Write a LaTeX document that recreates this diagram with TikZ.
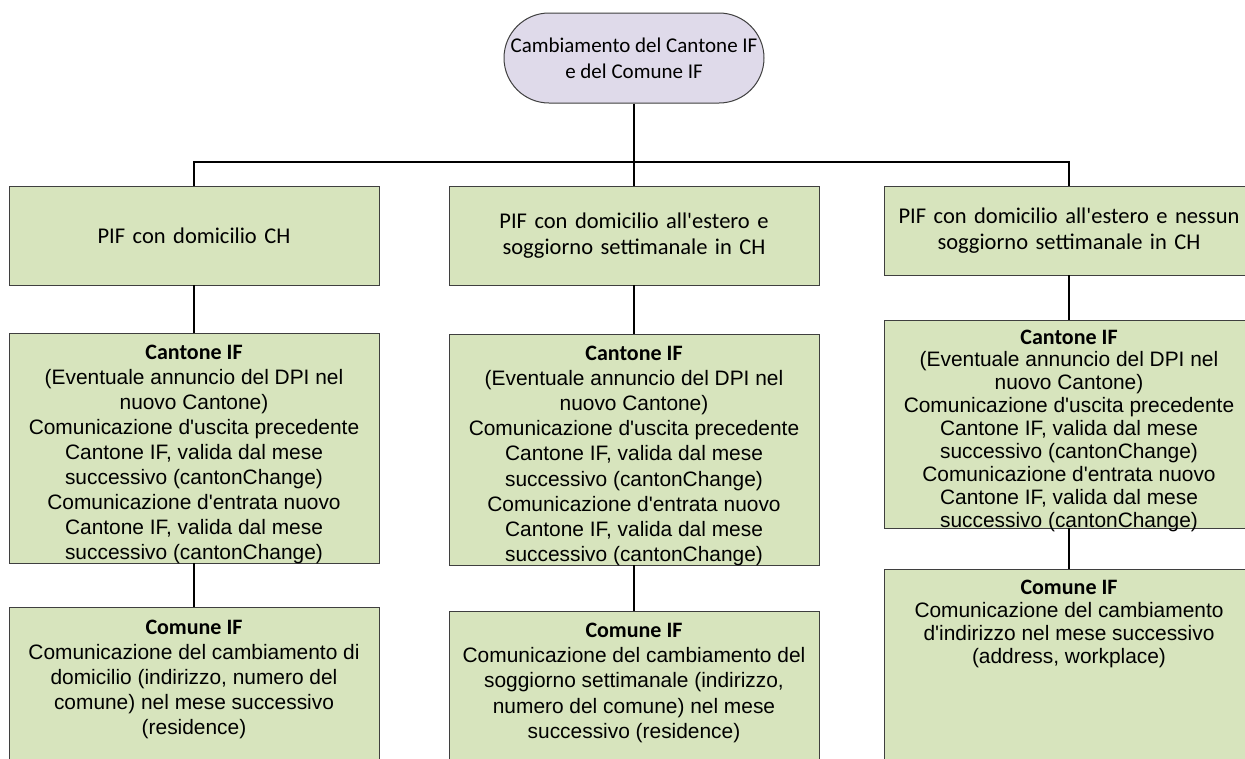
\documentclass[tikz,border=0pt]{standalone}
\usepackage{fontspec}
\setmainfont{Liberation Sans}
\newfontfamily\calfont{Carlito}
\definecolor{boxfill}{HTML}{D7E4BD}
\definecolor{ovalfill}{HTML}{DFDAEA}
\definecolor{boxline}{HTML}{3F3F3F}
\newcommand\ap{\textquotesingle}
\newcommand\hd[1]{{\calfont\bfseries\fontsize{22}{25}\selectfont #1}}
% #1 height, #2 top strut, #3 baselineskip, #4 content
\newcommand\tbox[4]{\parbox[c][#1][t]{370pt}{\centering\fontsize{20.9}{#3}\selectfont\rule{0pt}{#2}#4\par}}
\tikzset{
  box/.style={draw=boxline, fill=boxfill, line width=1pt, inner sep=0pt, outer sep=0pt},
  pifbox/.style={box, text width=370pt, align=center, minimum height=#1,
    font=\calfont\fontsize{22.5}{25.6}\selectfont},
  conn/.style={draw=black, line width=1.5pt},
}
\begin{document}
\begin{tikzpicture}[x=1pt,y=-1pt]
\clip (0,0) rectangle (1245,758);
\fill[white] (0,0) rectangle (1245,758);

\node[draw=boxline, fill=ovalfill, line width=1pt, rounded corners=45pt,
  minimum width=260pt, minimum height=90pt, inner sep=0pt, align=center,
  font=\calfont\fontsize{21}{26}\selectfont] (top) at (634,58)
  {Cambiamento del Cantone IF\\e del Comune IF};

\node[pifbox=99pt] (pif1) at (194,235.5) {PIF con domicilio CH};
\node[pifbox=99pt] (pif2) at (634,235.5) {PIF con domicilio all\ap estero e\\soggiorno settimanale in CH};
\node[pifbox=89pt] (pif3) at (1069,230.5) {PIF con domicilio all\ap estero e nessun\\soggiorno settimanale in CH};

\node[box] (can1) at (194,448) {\tbox{230pt}{26pt}{25pt}{\hd{Cantone IF}\\(Eventuale annuncio del DPI nel\\nuovo Cantone)\\Comunicazione d\ap uscita precedente\\Cantone IF, valida dal mese\\successivo (cantonChange)\\Comunicazione d\ap entrata nuovo\\Cantone IF, valida dal mese\\successivo (cantonChange)}};
\node[box] (can2) at (634,449.5) {\tbox{231pt}{26pt}{25.2pt}{\hd{Cantone IF}\\(Eventuale annuncio del DPI nel\\nuovo Cantone)\\Comunicazione d\ap uscita precedente\\Cantone IF, valida dal mese\\successivo (cantonChange)\\Comunicazione d\ap entrata nuovo\\Cantone IF, valida dal mese\\successivo (cantonChange)}};
\node[box] (can3) at (1069,424) {\tbox{208pt}{24pt}{22.9pt}{\hd{Cantone IF}\\(Eventuale annuncio del DPI nel\\nuovo Cantone)\\Comunicazione d\ap uscita precedente\\Cantone IF, valida dal mese\\successivo (cantonChange)\\Comunicazione d\ap entrata nuovo\\Cantone IF, valida dal mese\\successivo (cantonChange)}};

\node[box] (com1) at (194,693.5) {\tbox{173pt}{27pt}{25pt}{\hd{Comune IF}\\Comunicazione del cambiamento di\\domicilio (indirizzo, numero del\\comune) nel mese successivo\\(residence)}};
\node[box] (com2) at (634,695.5) {\tbox{169pt}{26pt}{25.4pt}{\hd{Comune IF}\\Comunicazione del cambiamento del\\soggiorno settimanale (indirizzo,\\numero del comune) nel mese\\successivo (residence)}};
\node[box] (com3) at (1069,674.5) {\tbox{211pt}{25pt}{23pt}{\hd{Comune IF}\\Comunicazione del cambiamento\\d\ap indirizzo nel mese successivo\\(address, workplace)}};

\coordinate (busL) at (194,162);
\coordinate (busR) at (1069,162);
\draw[conn] (top.south) -- (pif2.north);
\draw[conn] (pif1.north) -- (busL) -- (busR) -- (pif3.north);
\draw[conn] (pif1) -- (can1) -- (com1);
\draw[conn] (pif2) -- (can2) -- (com2);
\draw[conn] (pif3) -- (can3) -- (com3);
\end{tikzpicture}
\end{document}
